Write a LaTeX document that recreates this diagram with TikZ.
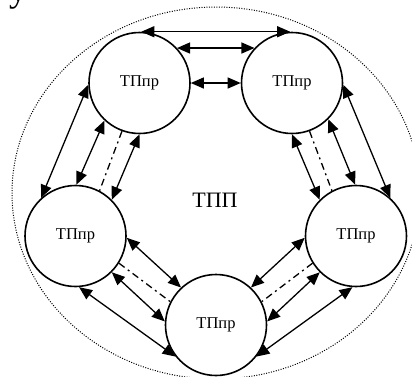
\documentclass[tikz,border=0pt]{standalone}
\usepackage{fontspec}
\setmainfont{Liberation Serif}
\usetikzlibrary{arrows.meta}
\tikzset{
  circ/.style={circle, draw, line width=1.6pt, minimum size=101pt, inner sep=0pt, font=\fontsize{16.5}{18}\selectfont},
  dbl/.style={{Triangle[length=13pt,width=11pt]}-{Triangle[length=13pt,width=11pt]}, line width=1.3pt},
  dd/.style={line width=1.3pt, dash pattern=on 7pt off 4pt on 2pt off 4pt},
  outer/.style={draw, line width=1pt, dash pattern=on 1pt off 1.5pt}
}
\begin{document}
\begin{tikzpicture}[x=1pt,y=-1pt]
\useasboundingbox (0,0) rectangle (412,376);
\draw[outer] (216,193) ellipse [x radius=204, y radius=186];
\node[anchor=base west, font=\fontsize{36}{38}\selectfont, inner sep=0pt] (yfrag) at (9,1) {у};
\node[circ] (TL) at (139.5,83) {ТПпр};
\node[circ] (TR) at (292,83) {ТПпр};
\node[circ] (L) at (75.5,236) {ТПпр};
\node[circ] (R) at (356,236) {ТПпр};
\node[circ] (B) at (216,325) {ТПпр};
\node[font=\fontsize{22}{24}\selectfont] (TPP) at (215,200) {ТПП};
% top pair
\draw[dbl] (TL.88) -- (TR.92);
\draw[dbl] (TL.43) -- (TR.137);
\draw[dbl] (TL.0) -- (TR.180);
% left pair
\draw[dbl] (TL.182) -- (L.132);
\draw[dbl] (TL.227) -- (L.89);
\draw[dd] (TL.250) -- (L.62);
\draw[dbl] (TL.270) -- (L.45);
% right pair
\draw[dbl] (TR.358) -- (R.48);
\draw[dbl] (TR.315) -- (R.91);
\draw[dd] (TR.290) -- (R.118);
\draw[dbl] (TR.270) -- (R.135);
% bottom-left pair
\draw[dbl] (L.274) -- (B.218);
\draw[dbl] (L.315) -- (B.176);
\draw[dd] (L.328) -- (B.153);
\draw[dbl] (L.358) -- (B.133);
% bottom-right pair
\draw[dbl] (R.266) -- (B.322);
\draw[dbl] (R.225) -- (B.4);
\draw[dd] (R.212) -- (B.27);
\draw[dbl] (R.182) -- (B.47);
\end{tikzpicture}
\end{document}
